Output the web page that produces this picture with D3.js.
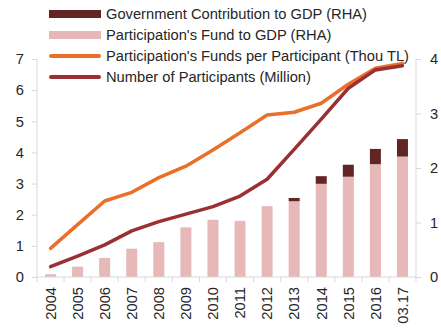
<!DOCTYPE html>
<html>
<head>
<meta charset="utf-8">
<script src="https://cdn.jsdelivr.net/npm/d3@7"></script>
<style>
  html, body { margin: 0; padding: 0; background: #fff; }
  svg { display: block; font-family: "Liberation Sans", Arial, sans-serif; }
</style>
</head>
<body>
<svg id="chart" width="441" height="329"></svg>
<script>
// Categories (years, last one is March 2017)
const categories = ["2004","2005","2006","2007","2008","2009","2010","2011","2012","2013","2014","2015","2016","03.17"];

// Right-hand axis (% of GDP), stacked bars
const fundToGdp = [0.05,0.19,0.35,0.52,0.64,0.91,1.05,1.03,1.30,1.39,1.71,1.84,2.07,2.21];
const govToGdp  = [0,0,0,0,0,0,0,0,0,0.06,0.14,0.22,0.28,0.32];

// Left-hand axis lines
const fundsPerParticipant = [0.92,1.68,2.44,2.72,3.19,3.56,4.08,4.63,5.20,5.29,5.58,6.19,6.70,6.86];
const participants        = [0.33,0.67,1.03,1.48,1.78,2.02,2.26,2.60,3.14,4.10,5.07,6.06,6.65,6.78];

const leftTicks  = [0,1,2,3,4,5,6,7];
const rightTicks = [0,1,2,3,4];

const legendItems = [
  { label: "Government Contribution to GDP (RHA)", type: "bar",  color: "#632523" },
  { label: "Participation's Fund to GDP (RHA)",    type: "bar",  color: "#E6B8B7" },
  { label: "Participation's Funds per Participant (Thou TL)", type: "line", color: "#E8702A" },
  { label: "Number of Participants (Million)",     type: "line", color: "#9B3032" }
];

const svg = d3.select("#chart");
const x0 = 37, x1 = 416, yTop = 59, yBot = 277;
const axisColor = "#D9D9D9";
const textColor = "#262626";
const fontSize = "14.7px";

const xb = d3.scaleBand().domain(categories).range([x0, x1]);
const yL = d3.scaleLinear().domain([0, 7]).range([yBot, yTop]);
const yR = d3.scaleLinear().domain([0, 4]).range([yBot, yTop]);

// Stacked bars: fund share at the base, government contribution on top
const barW = 11;
const bars = svg.append("g");
categories.forEach((c, i) => {
  const cx = xb(c) + xb.bandwidth() / 2;
  bars.append("rect")
    .attr("x", cx - barW / 2).attr("width", barW)
    .attr("y", yR(fundToGdp[i])).attr("height", yR(0) - yR(fundToGdp[i]))
    .attr("fill", "#E6B8B7");
  if (govToGdp[i] > 0) {
    const top = fundToGdp[i] + govToGdp[i];
    bars.append("rect")
      .attr("x", cx - barW / 2).attr("width", barW)
      .attr("y", yR(top)).attr("height", yR(fundToGdp[i]) - yR(top))
      .attr("fill", "#632523");
  }
});

// Value axes
const leftAxis = d3.axisLeft(yL).tickValues(leftTicks).tickSize(5).tickPadding(8).tickFormat(d3.format("d"));
const rightAxis = d3.axisRight(yR).tickValues(rightTicks).tickSize(5).tickPadding(9).tickFormat(d3.format("d"));

const gl = svg.append("g").attr("transform", `translate(${x0},0)`).call(leftAxis);
const gr = svg.append("g").attr("transform", `translate(${x1},0)`).call(rightAxis);
[gl, gr].forEach(g => {
  g.select(".domain").attr("stroke", axisColor).attr("d", `M0,${yTop}V${yBot}`);
  g.selectAll(".tick line").attr("stroke", axisColor);
  g.selectAll(".tick text").attr("fill", textColor).style("font-size", fontSize);
});

// Category axis with ticks at band boundaries
const gx = svg.append("g");
gx.append("line").attr("x1", x0).attr("x2", x1).attr("y1", yBot).attr("y2", yBot).attr("stroke", axisColor);
categories.concat([null]).forEach(c => {
  const px = c === null ? x1 : xb(c);
  gx.append("line").attr("x1", px).attr("x2", px).attr("y1", yBot).attr("y2", yBot + 5).attr("stroke", axisColor);
});
categories.forEach(c => {
  const cx = xb(c) + xb.bandwidth() / 2;
  gx.append("text")
    .attr("transform", `translate(${cx + 5.3},${yBot + 10}) rotate(-90)`)
    .attr("text-anchor", "end")
    .attr("fill", textColor)
    .style("font-size", fontSize)
    .text(c);
});

// Lines on the left-hand axis
const line = arr => d3.line()
  .x((d, i) => xb(categories[i]) + xb.bandwidth() / 2)
  .y(d => yL(d))(arr);

svg.append("path").attr("d", line(fundsPerParticipant))
  .attr("fill", "none").attr("stroke", "#E8702A").attr("stroke-width", 3.5)
  .attr("stroke-linejoin", "round").attr("stroke-linecap", "round");
svg.append("path").attr("d", line(participants))
  .attr("fill", "none").attr("stroke", "#9B3032").attr("stroke-width", 3.5)
  .attr("stroke-linejoin", "round").attr("stroke-linecap", "round");

// Legend
const lg = svg.append("g");
legendItems.forEach((it, i) => {
  const y = 14 + i * 21;
  if (it.type === "bar") {
    lg.append("rect").attr("x", 49).attr("y", y - 4).attr("width", 52).attr("height", 8).attr("fill", it.color);
  } else {
    lg.append("line").attr("x1", 51).attr("x2", 99).attr("y1", y).attr("y2", y)
      .attr("stroke", it.color).attr("stroke-width", 4).attr("stroke-linecap", "round");
  }
  lg.append("text").attr("x", 106).attr("y", y).attr("dy", "0.35em")
    .attr("fill", textColor).style("font-size", fontSize).text(it.label);
});
</script>
</body>
</html>
